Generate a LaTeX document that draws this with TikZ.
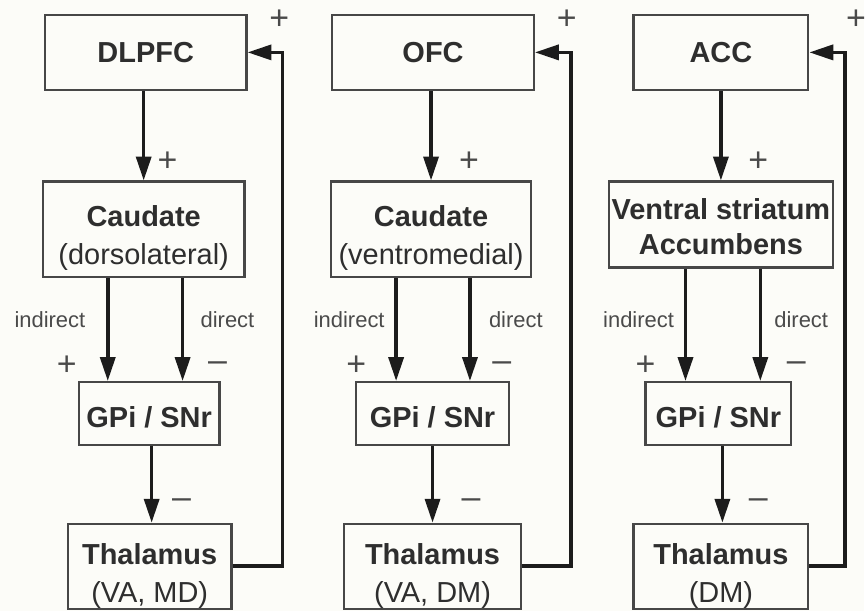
\documentclass[tikz,border=0pt]{standalone}
\usepackage{fontspec}
\setmainfont{Liberation Sans}
\usepackage{tikz}
\usetikzlibrary{arrows.meta}
\definecolor{PageBG}{HTML}{FCFCF8}
\definecolor{BoxLine}{HTML}{474747}
\definecolor{BoxText}{HTML}{2E2E2E}
\definecolor{PathCol}{HTML}{1C1C1C}
\definecolor{SignCol}{HTML}{4A4A4A}
% extra room above the first line, pushes the text block down a bit
\newcommand{\lift}[1]{\rule{0pt}{#1}}

\begin{document}
\begin{tikzpicture}[x=1pt, y=-1pt,
  every node/.style={text=BoxText},
  box/.style={draw=BoxLine, line width=2.2pt, inner sep=0pt, align=center,
              font=\fontsize{29}{38}\selectfont},
  lbl/.style={font=\fontsize{22}{24}\selectfont, text=SignCol, inner sep=0pt},
  sgn/.style={font=\fontsize{34}{34}\selectfont, text=SignCol, inner sep=0pt},
  arr/.style={->, line width=3.6pt, draw=PathCol},
  >={Triangle[length=24pt,width=15pt]}]
  \fill[PageBG] (0,0) rectangle (866,612);

  % dorsolateral prefrontal loop
  \node[box, minimum width=202pt, minimum height=75pt] (dlpfc1) at (146,52.5) {\bfseries DLPFC};
  \node[box, minimum width=202pt, minimum height=96pt] (caud1) at (144,230)
    {\lift{39pt}{\bfseries Caudate}\\(dorsolateral)};
  \node[box, minimum width=141pt, minimum height=63pt] (gpi1) at (149.5,414.5)
    {\lift{29pt}\bfseries GPi / SNr};
  \node[box, minimum width=164pt, minimum height=85pt] (thal1) at (150,567.5)
    {\lift{40pt}{\bfseries Thalamus}\\(VA, MD)};
  \coordinate (ind1) at (108,0);
  \coordinate (dir1) at (183,0);
  \coordinate (fb1) at (283,0);
  \draw[arr] (dlpfc1.south -| caud1.north) -- (caud1.north);
  \draw[arr] (caud1.south -| ind1) -- (gpi1.north -| ind1);
  \draw[arr] (caud1.south -| dir1) -- (gpi1.north -| dir1);
  \draw[arr] (gpi1.south -| 152,0) -- (thal1.north -| 152,0);
  \draw[arr] (thal1.east) -- (thal1.east -| fb1) -- (dlpfc1.east -| fb1) -- (dlpfc1.east);
  \node[sgn] (s1a) at (280,20) {+};
  \node[sgn] (s1b) at (168,162) {+};
  \node[sgn] (s1c) at (67,367) {+};
  \node[sgn] (s1d) at (218,367) {–};
  \node[sgn] (s1e) at (182,505) {–};
  \node[lbl] (i1) at (50,320) {indirect};
  \node[lbl] (d1) at (228,320) {direct};

  % orbitofrontal loop
  \node[box, minimum width=202pt, minimum height=75pt] (ofc2) at (434,52.5) {\bfseries OFC};
  \node[box, minimum width=200pt, minimum height=96pt] (caud2) at (432,230)
    {\lift{39pt}{\bfseries Caudate}\\(ventromedial)};
  \node[box, minimum width=153pt, minimum height=63pt] (gpi2) at (433.5,414.5)
    {\lift{29pt}\bfseries GPi / SNr};
  \node[box, minimum width=177pt, minimum height=85pt] (thal2) at (433.5,567.5)
    {\lift{40pt}{\bfseries Thalamus}\\(VA, DM)};
  \coordinate (ind2) at (397,0);
  \coordinate (dir2) at (471,0);
  \coordinate (fb2) at (572,0);
  \draw[arr] (ofc2.south -| caud2.north) -- (caud2.north);
  \draw[arr] (caud2.south -| ind2) -- (gpi2.north -| ind2);
  \draw[arr] (caud2.south -| dir2) -- (gpi2.north -| dir2);
  \draw[arr] (gpi2.south) -- (gpi2.south |- thal2.north);
  \draw[arr] (thal2.east) -- (thal2.east -| fb2) -- (ofc2.east -| fb2) -- (ofc2.east);
  \node[sgn] (s2a) at (568,20) {+};
  \node[sgn] (s2b) at (470,162) {+};
  \node[sgn] (s2c) at (357,367) {+};
  \node[sgn] (s2d) at (503,367) {–};
  \node[sgn] (s2e) at (472,505) {–};
  \node[lbl] (i2) at (350,320) {indirect};
  \node[lbl] (d2) at (517,320) {direct};

  % anterior cingulate loop
  \node[box, minimum width=175pt, minimum height=75pt] (acc3) at (722.5,52.5) {\bfseries ACC};
  \node[box, minimum width=225pt, minimum height=86pt, font=\bfseries\fontsize{29}{35}\selectfont]
    (vs3) at (722.5,225) {\lift{26pt}Ventral striatum\\Accumbens};
  \node[box, minimum width=146pt, minimum height=63pt] (gpi3) at (720,414.5)
    {\lift{29pt}\bfseries GPi / SNr};
  \node[box, minimum width=175pt, minimum height=85pt] (thal3) at (722.5,567.5)
    {\lift{40pt}{\bfseries Thalamus}\\(DM)};
  \coordinate (ind3) at (687,0);
  \coordinate (dir3) at (762,0);
  \coordinate (fb3) at (847,0);
  \draw[arr] (acc3.south) -- (acc3.south |- vs3.north);
  \draw[arr] (vs3.south -| ind3) -- (gpi3.north -| ind3);
  \draw[arr] (vs3.south -| dir3) -- (gpi3.north -| dir3);
  \draw[arr] (gpi3.south -| 724,0) -- (thal3.north -| 724,0);
  \draw[arr] (thal3.east) -- (thal3.east -| fb3) -- (acc3.east -| fb3) -- (acc3.east);
  \node[sgn] (s3a) at (858,20) {+};
  \node[sgn] (s3b) at (760,162) {+};
  \node[sgn] (s3c) at (647,367) {+};
  \node[sgn] (s3d) at (798,367) {–};
  \node[sgn] (s3e) at (760,505) {–};
  \node[lbl] (i3) at (640,320) {indirect};
  \node[lbl] (d3) at (803,320) {direct};
\end{tikzpicture}
\end{document}
